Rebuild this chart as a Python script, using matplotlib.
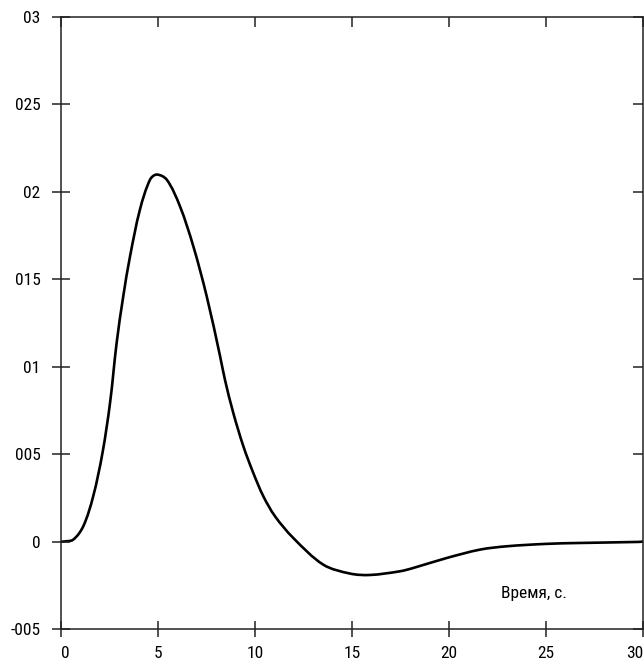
import matplotlib
matplotlib.use("Agg")
import matplotlib.pyplot as plt
import numpy as np
from matplotlib import font_manager
from matplotlib.path import Path
from matplotlib.patches import PathPatch

# ---- data ----
time_s = [0.0, 0.12, 0.63, 1.15, 1.66, 2.14, 2.53, 2.87, 3.21, 3.56, 4.07, 4.59,
          4.93, 5.45, 6.13, 6.82, 7.51, 8.20, 8.45, 8.88, 9.40, 9.91, 10.43,
          11.03, 11.97, 13.52, 14.90, 15.93, 17.47, 18.16, 19.88, 21.60, 22.97,
          25.04, 26.75, 29.76, 30.0]
response = [0.0, 0.0, 0.00011, 0.00088, 0.00259, 0.00508, 0.00795, 0.01138,
            0.01403, 0.01632, 0.01899, 0.02070, 0.02099, 0.02070, 0.01918,
            0.01689, 0.01403, 0.01060, 0.00926, 0.00736, 0.00545, 0.00393,
            0.00259, 0.00145, 0.00021, -0.00132, -0.00183, -0.00191, -0.00170,
            -0.00151, -0.00094, -0.00046, -0.00027, -0.00013, -0.00008,
            -0.00002, 0.0]

x_ticks = [0, 5, 10, 15, 20, 25, 30]
x_tick_labels = ["0", "5", "10", "15", "20", "25", "30"]
y_ticks = [-0.005, 0.0, 0.005, 0.01, 0.015, 0.02, 0.025, 0.03]
y_tick_labels = ["-005", "0", "005", "01", "015", "02", "025", "03"]
annotation = "Время, с."

avail = {f.name for f in font_manager.fontManager.ttflist}
fam = [f for f in ["Liberation Sans Narrow", "Roboto Condensed", "Open Sans Condensed", "Liberation Sans"] if f in avail]
plt.rcParams['font.family'] = fam + ['DejaVu Sans']

fig = plt.figure(figsize=(6.44, 6.64), dpi=100)
ax = fig.add_axes([61/644, 1 - 629/664, 582/644, 612/664])
ax.set_xlim(0, 30)
ax.set_ylim(-0.005, 0.03)


def smooth_path(xs, ys, ax):
    """Smooth curve through the points (chordal Hermite -> cubic Bezier), built in
    display space and mapped back to data space."""
    fig.canvas.draw()
    D = ax.transData.transform(np.column_stack([xs, ys]).astype(float))
    n = len(D)
    seg = np.linalg.norm(np.diff(D, axis=0), axis=1)
    seg[seg == 0] = 1e-6
    t = np.concatenate([[0], np.cumsum(seg)])
    m = np.zeros_like(D)
    for i in range(n):
        if i == 0:
            m[i] = (D[1] - D[0]) / (t[1] - t[0])
        elif i == n - 1:
            m[i] = (D[-1] - D[-2]) / (t[-1] - t[-2])
        else:
            m[i] = (D[i + 1] - D[i - 1]) / (t[i + 1] - t[i - 1])
    verts = [D[0]]
    codes = [Path.MOVETO]
    for i in range(n - 1):
        h = t[i + 1] - t[i]
        verts += [D[i] + m[i] * h / 3, D[i + 1] - m[i + 1] * h / 3, D[i + 1]]
        codes += [Path.CURVE4] * 3
    V = ax.transData.inverted().transform(np.array(verts))
    return Path(V, codes)


patch = PathPatch(smooth_path(time_s, response, ax), facecolor='none', edgecolor='black',
                  lw=1.9, transform=ax.transData, capstyle='round', joinstyle='round')
ax.add_patch(patch)

ax.set_xticks(x_ticks)
ax.set_xticklabels(x_tick_labels, fontsize=12.5)
ax.set_yticks(y_ticks)
ax.set_yticklabels(y_tick_labels, fontsize=12.5)

ax.tick_params(axis='x', direction='inout', length=11, width=1.1, pad=7, color='#222222')
ax.tick_params(axis='y', direction='inout', length=13.5, width=1.1, pad=8, color='#222222')

xl = ax.get_xticklabels()
xl[0].set_ha('left')
xl[-1].set_ha('right')

for s in ax.spines.values():
    s.set_linewidth(1.1)
    s.set_color('#222222')

# inward ticks on top and right
secx = ax.secondary_xaxis('top')
secx.set_xticks(x_ticks)
secx.tick_params(direction='in', length=7, width=1.1, labeltop=False, color='#222222')
secx.spines['top'].set_visible(False)
secy = ax.secondary_yaxis('right')
secy.set_yticks(y_ticks)
secy.tick_params(direction='in', length=7, width=1.1, labelright=False, color='#222222')
secy.spines['right'].set_visible(False)

ax.text(24.4, -0.00297, annotation, fontsize=12.5, ha='center', va='center')

fig.savefig("out.png", dpi=100)
